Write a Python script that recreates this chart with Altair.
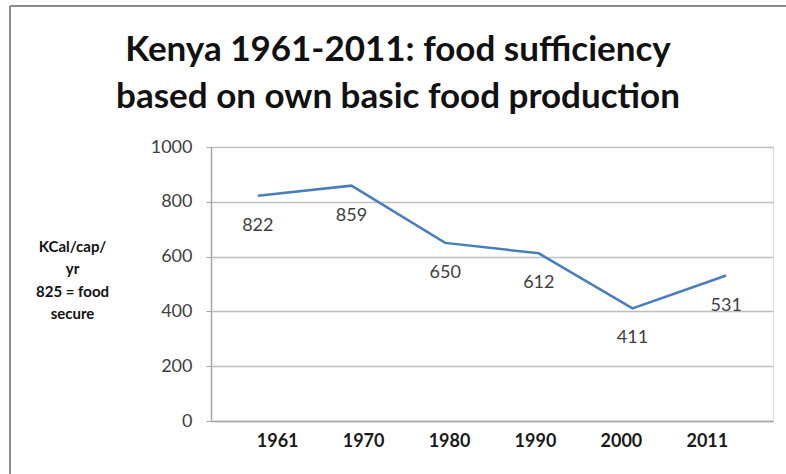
import altair as alt
import pandas as pd

years = ["1961", "1970", "1980", "1990", "2000", "2011"]
values = [822, 859, 650, 612, 411, 531]
y_ticks = [0, 200, 400, 600, 800, 1000]
title_lines = ["Kenya 1961-2011: food sufficiency", "based on own basic food production"]
y_title = ["KCal/cap/", "yr", "825 = food", "secure"]

df = pd.DataFrame({"year": years, "value": values})
one = pd.DataFrame({"k": [0]})

FONT = "Lato"
W, H = 562, 274

y_enc = alt.Y(
    "value:Q",
    scale=alt.Scale(domain=[0, 1000], nice=False),
    axis=alt.Axis(
        values=y_ticks,
        format="d",
        title=y_title,
        titleAngle=0,
        titleAlign="center",
        titleBaseline="alphabetic",
        titleX=-139,
        titleY=104,
        titleFont=FONT,
        titleFontSize=15,
        titleFontWeight="bold",
        titleColor="#111111",
        titleLineHeight=22.5,
        labelFont=FONT,
        labelFontSize=18,
        labelColor="#404040",
        labelPadding=14,
        tickSize=5,
        tickColor="#a6a6a6",
        domainColor="#a6a6a6",
        domainWidth=1.5,
        gridColor="#bfbfbf",
        gridWidth=1.5,
    ),
)

x_pts = alt.X("year:O", sort=years, scale=alt.Scale(type="point", padding=0.5), axis=None)

line = alt.Chart(df).mark_line(color="#4a7ebb", strokeWidth=2.5).encode(x=x_pts, y=y_enc)

labels = alt.Chart(df).mark_text(
    dy=30, font=FONT, fontSize=18, color="#404040"
).encode(x=x_pts, y=alt.Y("value:Q"), text=alt.Text("value:Q"))

x_axis_layer = alt.Chart(df).mark_point(opacity=0).encode(
    x=alt.X(
        "year:O",
        sort=years,
        scale=alt.Scale(type="point", padding=0.77),
        axis=alt.Axis(
            title=None,
            labelAngle=0,
            labelFont=FONT,
            labelFontSize=18,
            labelFontWeight="bold",
            labelColor="#1a1a1a",
            labelPadding=11,
            ticks=False,
            domainColor="#a6a6a6",
            domainWidth=1.5,
        ),
    ),
    y=alt.Y("value:Q"),
)

title = alt.Chart(one).mark_text(
    text=title_lines,
    font=FONT,
    fontSize=35,
    fontWeight="bold",
    color="#111111",
    align="center",
    baseline="alphabetic",
    lineHeight=47,
).encode(x=alt.value(187), y=alt.value(-86))

border_left = alt.Chart(one).mark_rule(color="#8c8c8c", strokeWidth=2).encode(
    x=alt.value(-201), y=alt.value(-141), y2=alt.value(H + 60)
)
border_top = alt.Chart(one).mark_rule(color="#8c8c8c", strokeWidth=2).encode(
    x=alt.value(-201), x2=alt.value(W + 20), y=alt.value(-141)
)

chart = (
    alt.layer(border_left, border_top, title, line, labels, x_axis_layer)
    .resolve_scale(x="independent")
    .properties(
        width=W,
        height=H,
        padding={"left": 211, "top": 147, "right": 13, "bottom": 53},
        autosize=alt.AutoSizeParams(type="none"),
    )
    .configure_view(stroke=None)
    .configure(background="white")
)

chart.save("out.html", embed_options={"renderer": "svg", "actions": False})
